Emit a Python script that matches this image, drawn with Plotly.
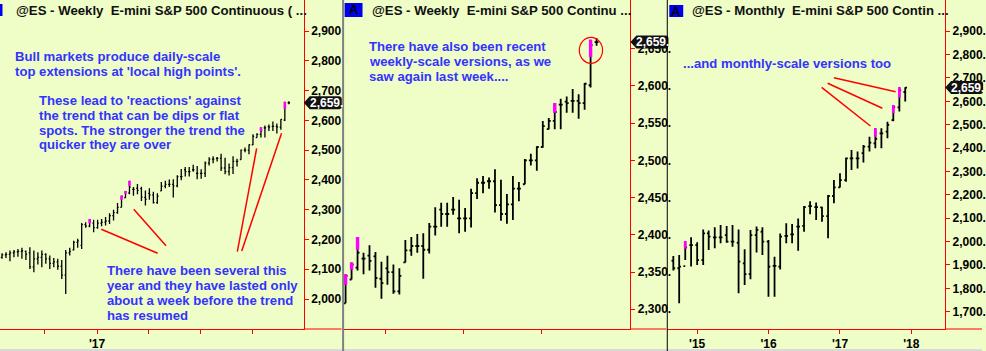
import plotly.graph_objects as go
import pandas as pd

# ---------------- data ----------------
# weekly bars (week start dates)
weekly_dates = pd.date_range("2016-07-18", periods=73, freq="7D")
weekly_open = [2140, 2148, 2150, 2155, 2158, 2160, 2160, 2155, 2108, 2135,
               2140, 2150, 2135, 2120, 2125, 2110, 2080, 2155, 2165, 2190,
               2180, 2250, 2245, 2255, 2240, 2255, 2258, 2262, 2280, 2290,
               2308, 2340, 2356, 2368, 2372, 2371, 2341, 2355, 2350, 2324,
               2363, 2379, 2385, 2385, 2380, 2411, 2434, 2428, 2434, 2422,
               2422, 2422, 2456, 2470, 2472, 2472, 2440, 2428, 2441, 2462,
               2468, 2500, 2500, 2518, 2542, 2553, 2575, 2579, 2580, 2580,
               2577, 2601, 2659]
weekly_high = [2154, 2157, 2163, 2165, 2168, 2172, 2163, 2174, 2163, 2157,
               2163, 2154, 2146, 2138, 2135, 2131, 2165, 2172, 2196, 2202,
               2255, 2258, 2269, 2266, 2266, 2269, 2275, 2288, 2300, 2322,
               2347, 2363, 2397, 2376, 2386, 2377, 2364, 2372, 2360, 2355,
               2393, 2397, 2401, 2402, 2416, 2437, 2443, 2443, 2451, 2447,
               2436, 2462, 2476, 2479, 2477, 2488, 2474, 2455, 2479, 2471,
               2502, 2509, 2519, 2553, 2557, 2577, 2583, 2586, 2596, 2589,
               2604, 2662, 2664]
weekly_low = [2135, 2138, 2127, 2140, 2142, 2135, 2131, 2101, 2090, 2116,
              2107, 2118, 2101, 2107, 2098, 2067, 2017, 2146, 2163, 2172,
              2168, 2239, 2241, 2224, 2236, 2244, 2247, 2252, 2264, 2286,
              2308, 2340, 2352, 2347, 2352, 2329, 2314, 2333, 2321, 2320,
              2363, 2372, 2376, 2341, 2375, 2399, 2411, 2411, 2427, 2402,
              2404, 2410, 2448, 2456, 2462, 2430, 2419, 2415, 2420, 2445,
              2468, 2493, 2486, 2517, 2542, 2542, 2542, 2564, 2564, 2556,
              2568, 2598, 2654]
weekly_close = [2148, 2150, 2155, 2158, 2160, 2162, 2150, 2108, 2135, 2140,
                2150, 2135, 2120, 2125, 2110, 2080, 2155, 2160, 2190, 2195,
                2250, 2245, 2262, 2240, 2255, 2258, 2262, 2280, 2290, 2308,
                2345, 2360, 2376, 2368, 2365, 2342, 2335, 2350, 2324, 2345,
                2379, 2385, 2385, 2380, 2411, 2411, 2428, 2428, 2434, 2422,
                2422, 2456, 2470, 2470, 2472, 2440, 2428, 2441, 2462, 2462,
                2500, 2500, 2518, 2546, 2553, 2565, 2575, 2577, 2580, 2577,
                2603, 2655, 2659]
# top-extension highlights (bar index, lower end of highlighted part)
weekly_ext_idx = [22, 30, 31, 32, 65, 71]
weekly_ext_low = [2254, 2333, 2353, 2380, 2564, 2639]

# monthly bars (month start dates)
monthly_dates = pd.date_range("2014-09-01", periods=40, freq="MS")
monthly_open = [1918, 1886, 1895, 1985, 1985, 1921, 2035, 2018, 2018, 2028,
                2000, 1995, 1907, 1861, 2028, 2042, 2000, 1896, 1893, 2024,
                2031, 2064, 2067, 2152, 2147, 2146, 2109, 2195, 2232, 2263,
                2356, 2356, 2378, 2406, 2420, 2463, 2470, 2520, 2574, 2640]
monthly_high = [1938, 1943, 2002, 2018, 1997, 2052, 2047, 2061, 2071, 2067,
                2071, 2052, 1967, 2050, 2064, 2061, 2007, 1935, 2035, 2078,
                2075, 2099, 2152, 2172, 2167, 2149, 2199, 2263, 2292, 2360,
                2392, 2385, 2413, 2449, 2485, 2485, 2513, 2584, 2660, 2660]
monthly_low = [1876, 1736, 1921, 1893, 1900, 1900, 1964, 1971, 1993, 1995,
               1978, 1779, 1814, 1839, 1953, 1943, 1764, 1764, 1881, 1993,
               1993, 1961, 2042, 2117, 2092, 2085, 2014, 2164, 2231, 2256,
               2306, 2313, 2338, 2385, 2399, 2399, 2442, 2515, 2556, 2599]
monthly_close = [1886, 1893, 1975, 1985, 1921, 2035, 2021, 2018, 2018, 2000,
                 2000, 1914, 1861, 2028, 2050, 2000, 1893, 1896, 2021, 2024,
                 2031, 2064, 2147, 2152, 2147, 2109, 2195, 2232, 2263, 2356,
                 2356, 2356, 2406, 2423, 2440, 2463, 2499, 2575, 2647, 2659]
monthly_ext_idx = [2, 34, 37, 38]
monthly_ext_low = [1970, 2449, 2549, 2616]

# axis tick labels
p1_yticks = [2000, 2100, 2200, 2300, 2400, 2500, 2600, 2700, 2800, 2900]
p2_yticks = [2300, 2350, 2400, 2450, 2500, 2550, 2600, 2650]
p3_yticks = [1700, 1800, 1900, 2000, 2100, 2200, 2300, 2400, 2500, 2600, 2700, 2800, 2900]
p1_xticks = ["2016-10-01", "2017-01-01", "2017-04-01", "2017-07-01", "2017-10-01"]
p1_xlabels = ["", "'17", "", "", ""]
p2_xticks = ["2017-04-01", "2017-07-01", "2017-10-01"]
p3_xticks = ["2015-01-01", "2016-01-01", "2017-01-01", "2018-01-01"]
p3_xlabels = ["'15", "'16", "'17", "'18"]

# ---------------- layout helpers ----------------
W, H = 986, 351
BG = "#EFFDC7"
RED = "#FF0000"
BLUE_TXT = "#3333FF"
FONT = "Liberation Sans, Arial, sans-serif"


def px(x):
    return x / W


def py(y):
    return 1 - y / H


P1, P2, P3 = (0, 305), (345, 633), (670, 949)
Y_DOM = [py(329), 1]

fig = go.Figure()


def add_ohlc(xa, ya, dates, o, h, l, c, lw, tw):
    fig.add_trace(go.Ohlc(
        x=dates, open=o, high=h, low=l, close=c, xaxis=xa, yaxis=ya,
        increasing=dict(line=dict(color="black", width=lw)),
        decreasing=dict(line=dict(color="black", width=lw)),
        tickwidth=tw, hoverinfo="skip", showlegend=False))


def add_ext(xa, ya, dates, high, idx, lows, lw):
    xs, ys = [], []
    for i, lo in zip(idx, lows):
        xs += [dates[i], dates[i], None]
        ys += [lo, high[i], None]
    fig.add_trace(go.Scatter(x=xs, y=ys, mode="lines", xaxis=xa, yaxis=ya,
                             line=dict(color="#FF00FF", width=lw),
                             hoverinfo="skip", showlegend=False))


add_ohlc("x", "y", weekly_dates, weekly_open, weekly_high, weekly_low, weekly_close, 1.3, 0.3)
add_ext("x", "y", weekly_dates, weekly_high, weekly_ext_idx, weekly_ext_low, 2.6)
add_ohlc("x2", "y2", weekly_dates, weekly_open, weekly_high, weekly_low, weekly_close, 1.8, 0.33)
add_ext("x2", "y2", weekly_dates, weekly_high, weekly_ext_idx, weekly_ext_low, 3.4)
add_ohlc("x3", "y3", monthly_dates, monthly_open, monthly_high, monthly_low, monthly_close, 1.8, 0.33)
add_ext("x3", "y3", monthly_dates, monthly_high, monthly_ext_idx, monthly_ext_low, 2.8)

# x ranges from pixel geometry
w0 = weekly_dates[0]


def wk_at(pix, first_px, step):
    return w0 + pd.Timedelta(days=7 * (pix - first_px) / step)


x1_range = [wk_at(P1[0], 2, 4), wk_at(P1[1], 2, 4)]
x2_range = [wk_at(P2[0], 347 - 30 * 6, 6), wk_at(P2[1], 347 - 30 * 6, 6)]
day_per_px = 1096 / 215
x3_range = [pd.Timestamp("2015-01-01") - pd.Timedelta(days=(700 - P3[0]) * day_per_px),
            pd.Timestamp("2018-01-01") + pd.Timedelta(days=(P3[1] - 915) * day_per_px)]

tickfont = dict(family=FONT, size=12, color="black", weight="bold")


def xax(dom, rng, tv, tt, anchor):
    return dict(domain=dom, range=rng, type="date", anchor=anchor,
                showgrid=False, zeroline=False, showline=True, linecolor=RED,
                linewidth=1, ticks="outside", ticklen=4, tickcolor=RED,
                tickvals=tv, ticktext=tt, tickfont=tickfont,
                rangeslider=dict(visible=False), fixedrange=True)


def yax(rng, tv, tt, anchor):
    return dict(domain=Y_DOM, range=rng, side="right", anchor=anchor,
                showgrid=False, zeroline=False, showline=True, linecolor=RED,
                linewidth=1, ticks="outside", ticklen=4, tickcolor=RED,
                tickvals=tv, ticktext=tt, tickfont=tickfont, fixedrange=True)


fig.update_layout(
    width=W, height=H, autosize=False,
    margin=dict(l=0, r=0, t=0, b=0, pad=0),
    paper_bgcolor=BG, plot_bgcolor=BG, showlegend=False,
    xaxis=xax([px(P1[0]), px(P1[1])], x1_range, p1_xticks, p1_xlabels, "y"),
    xaxis2=xax([px(P2[0]), px(P2[1])], x2_range, p2_xticks, [""] * len(p2_xticks), "y2"),
    xaxis3=xax([px(P3[0]), px(P3[1])], x3_range, p3_xticks, p3_xlabels, "y3"),
    yaxis=yax([1899.3, 3004.1], p1_yticks, [f"{v:,}" for v in p1_yticks], "x"),
    yaxis2=yax([2273.5, 2715.5], p2_yticks, [f"{v:,}." for v in p2_yticks], "x2"),
    yaxis3=yax([1626, 3033.5], p3_yticks, [f"{v:,}." for v in p3_yticks], "x3"),
)

shapes = []
ann = []


def pline(x0, y0, x1, y1, color=RED, width=1.5, layer="above"):
    shapes.append(dict(type="line", xref="paper", yref="paper",
                       x0=px(x0), y0=py(y0), x1=px(x1), y1=py(y1),
                       line=dict(color=color, width=width), layer=layer))


# axis line extensions under price scales
pline(P1[1], 329, 343, 329, width=1)
pline(P2[1], 329, 669, 329, width=1)
pline(P3[1], 329, 986, 329, width=1)
# bottom strip
shapes.append(dict(type="rect", xref="paper", yref="paper", x0=0, x1=1,
                   y0=0, y1=py(349), fillcolor="#D9D9D9", line=dict(width=0), layer="above"))
# pointer lines
pline(101.7, 229.3, 158.3, 253.3)
pline(134.3, 209.3, 166.7, 245.7)
pline(257.7, 148.3, 238.3, 251.7)
pline(282.7, 133.3, 242.7, 251)
pline(837.3, 77.7, 899.3, 91.7)
pline(831, 83.3, 886, 108.3)
pline(825, 87.3, 874, 126)
# circle
shapes.append(dict(type="circle", xref="paper", yref="paper",
                   x0=px(581.7), x1=px(605), y0=py(37.3), y1=py(63.3),
                   line=dict(color=RED, width=1.2), layer="above"))

# current price boxes
last_close = weekly_close[-1]
price_txt = f"{last_close:,}."
box_path = "M0,0 L6,6.5 L35,6.5 Q38,6.5 38,3.5 L38,-3.5 Q38,-6.5 35,-6.5 L6,-6.5 Z"
for xa_end, yref in [(P1[1], "y"), (P2[1], "y2"), (P3[1], "y3")]:
    shapes.append(dict(type="path", xref="paper", yref=yref,
                       xsizemode="pixel", ysizemode="pixel",
                       xanchor=px(xa_end), yanchor=last_close,
                       path=box_path, fillcolor="#111111", line=dict(width=0), layer="above"))
    ann.append(dict(x=px(xa_end), y=last_close, xref="paper", yref=yref,
                    xanchor="left", yanchor="middle", xshift=4, showarrow=False,
                    text=price_txt, font=dict(family=FONT, size=12, color="white", weight="bold")))

# panel separators
pline(344.5, 0, 344.5, 351, color="#808080", width=2)
pline(670, 0, 670, 351, color="#000000", width=1)

# "A" boxes
for x0, x1, y0, y1, show in [(0, 2.5, 4, 16, False), (346, 364, 3, 17, True), (672, 686, 5, 17, True)]:
    shapes.append(dict(type="rect", xref="paper", yref="paper",
                       x0=px(x0), x1=px(x1), y0=py(y1), y1=py(y0),
                       fillcolor="#0000EE", line=dict(width=0), layer="above"))
    if show:
        ann.append(dict(x=px((x0 + x1) / 2), y=py((y0 + y1) / 2), xref="paper", yref="paper",
                        xanchor="center", yanchor="middle", showarrow=False, text="A",
                        font=dict(family=FONT, size=13, color="black", weight="bold")))

# titles
for txt, x in [("@ES - Weekly\u00a0\u00a0E-mini S&P 500 Continuous ( ...", 14),
               ("@ES - Weekly\u00a0\u00a0E-mini S&P 500 Continu ...", 371.7),
               ("@ES - Monthly\u00a0\u00a0E-mini S&P 500 Contin ...", 692.7)]:
    ann.append(dict(x=px(x), y=py(10.5), xref="paper", yref="paper", xanchor="left",
                    yanchor="middle", showarrow=False, text=txt,
                    font=dict(family=FONT, size=13.2, color="#111111", weight="bold")))

# blue commentary
blue_lines = [
    ("Bull markets produce daily-scale", 13, 57),
    ("top extensions at 'local high points'.", 13, 71.5),
    ("These lead to 'reactions' against", 37, 100.5),
    ("the trend that can be dips or flat", 37, 115.5),
    ("spots. The stronger the trend the", 37, 130.5),
    ("quicker they are over", 37, 145),
    ("There have been several this", 105, 270.7),
    ("year and they have lasted only", 105, 285.7),
    ("about a week before the trend", 105, 300.7),
    ("has resumed", 105, 315),
    ("There have also been recent", 368.3, 46.7),
    ("weekly-scale versions, as we", 368.3, 61.7),
    ("saw again last week....", 368.3, 76.7),
    ("...and monthly-scale versions too", 684, 63.3),
]
for txt, x, y in blue_lines:
    ann.append(dict(x=px(x), y=py(y), xref="paper", yref="paper", xanchor="left",
                    yanchor="middle", showarrow=False, text=txt,
                    font=dict(family=FONT, size=13.15, color=BLUE_TXT, weight="bold")))

fig.update_layout(shapes=shapes, annotations=ann)
fig.write_html("out.html")
